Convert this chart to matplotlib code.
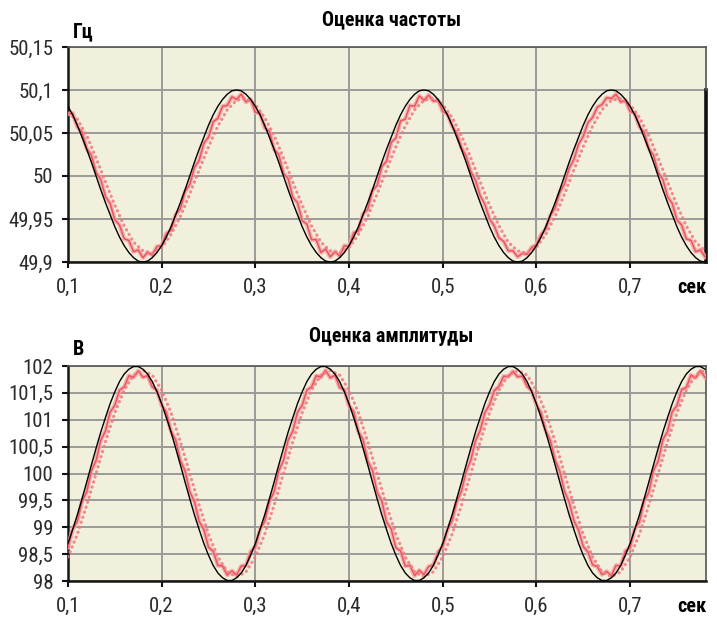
import numpy as np
import matplotlib
matplotlib.use("Agg")
import matplotlib.pyplot as plt
from matplotlib import font_manager as fm
from matplotlib.ticker import FixedLocator, FixedFormatter

# ---------------------------------------------------------------- font
# prefer a narrow sans face; fall back to an Arial-metric face
_entries = fm.fontManager.ttflist
_names = {e.name for e in _entries}
FONT = None
STRETCH = 'normal'
for fam in ['Liberation Sans Narrow', 'Roboto Condensed', 'Open Sans Condensed',
            'Noto Sans Condensed', 'DejaVu Sans Condensed', 'Arial Narrow']:
    if fam in _names:
        FONT = fam
        break
if FONT is None:
    for fam in ['Roboto', 'Noto Sans', 'Open Sans', 'DejaVu Sans', 'Inter', 'Lato']:
        if any(e.name == fam and 'condensed' in str(e.stretch) for e in _entries):
            FONT = fam
            STRETCH = 'condensed'
            break
NARROW = FONT is not None
if FONT is None:
    FONT = 'Liberation Sans'

plt.rcParams['font.family'] = [FONT, 'DejaVu Sans']
plt.rcParams['font.stretch'] = STRETCH
TICK_SIZE = 15 if NARROW else 12.5
TITLE_SIZE = 14.5 if NARROW else 12.5

# ---------------------------------------------------------------- data
# sampling: 0.005 s for the model and the fast estimate, 0.01 s for the filtered estimate
t_start, t_end = 0.10, 0.78

freq_model = [
    50.081, 50.071, 50.059, 50.045, 50.031, 50.016, 50.000, 49.984, 49.969, 49.955,
    49.941, 49.929, 49.919, 49.911, 49.905, 49.901, 49.900, 49.901, 49.905, 49.911,
    49.919, 49.929, 49.941, 49.955, 49.969, 49.984, 50.000, 50.016, 50.031, 50.045,
    50.059, 50.071, 50.081, 50.089, 50.095, 50.099,
    50.100, 50.099, 50.095, 50.089, 50.081, 50.071, 50.059, 50.045, 50.031, 50.016,
    50.000, 49.984, 49.969, 49.955, 49.941, 49.929, 49.919, 49.911, 49.905, 49.901,
    49.900, 49.901, 49.905, 49.911, 49.919, 49.929, 49.941, 49.955, 49.969, 49.984,
    50.000, 50.016, 50.031, 50.045, 50.059, 50.071, 50.081, 50.089, 50.095, 50.099,
    50.100, 50.099, 50.095, 50.089, 50.081, 50.071, 50.059, 50.045, 50.031, 50.016,
    50.000, 49.984, 49.969, 49.955, 49.941, 49.929, 49.919, 49.911, 49.905, 49.901,
    49.900, 49.901, 49.905, 49.911, 49.919, 49.929, 49.941, 49.955, 49.969, 49.984,
    50.000, 50.016, 50.031, 50.045, 50.059, 50.071, 50.081, 50.089, 50.095, 50.099,
    50.100, 50.099, 50.095, 50.089, 50.081, 50.071, 50.059, 50.045, 50.031, 50.016,
    50.000, 49.984, 49.969, 49.955, 49.941, 49.929, 49.919, 49.911, 49.905, 49.901,
    49.900,
]

freq_estimate = [
    50.072, 50.073, 50.057, 50.051, 50.032, 50.024, 50.004, 49.996, 49.976, 49.968,
    49.949, 49.943, 49.927, 49.925, 49.912, 49.914, 49.905, 49.911, 49.908, 49.918,
    49.919, 49.933, 49.937, 49.955, 49.962, 49.982, 49.990, 50.010, 50.018, 50.038,
    50.045, 50.063, 50.067, 50.081, 50.082, 50.092, 50.089,
    50.095, 50.086, 50.089, 50.074, 50.073, 50.056, 50.052, 50.031, 50.025, 50.003,
    49.997, 49.975, 49.969, 49.948, 49.944, 49.926, 49.926, 49.911, 49.915, 49.906,
    49.912, 49.907, 49.919, 49.918, 49.934, 49.936, 49.956, 49.961, 49.983, 49.989,
    50.011, 50.017, 50.039, 50.044, 50.064, 50.066, 50.082, 50.081, 50.093, 50.088,
    50.094, 50.087, 50.088, 50.075, 50.072, 50.058, 50.050, 50.033, 50.023, 50.005,
    49.995, 49.977, 49.967, 49.950, 49.942, 49.928, 49.924, 49.913, 49.913, 49.906,
    49.910, 49.909, 49.917, 49.920, 49.932, 49.938, 49.954, 49.963, 49.981, 49.991,
    50.009, 50.019, 50.037, 50.046, 50.062, 50.068, 50.080, 50.083, 50.091, 50.090,
    50.095, 50.086, 50.088, 50.075, 50.073, 50.057, 50.051, 50.032, 50.024, 50.004,
    49.996, 49.976, 49.968, 49.949, 49.943, 49.927, 49.925, 49.912, 49.914, 49.906,
]

freq_filtered = [
    50.072, 50.066, 50.047, 50.021, 49.993, 49.966, 49.942, 49.923, 49.913, 49.910,
    49.917, 49.932, 49.953, 49.979, 50.007, 50.034, 50.058, 50.077, 50.088,
    50.090, 50.083, 50.068, 50.047, 50.021, 49.993, 49.966, 49.942, 49.923, 49.913,
    49.910, 49.917, 49.932, 49.953, 49.979, 50.007, 50.034, 50.058, 50.077, 50.088,
    50.090, 50.083, 50.068, 50.047, 50.021, 49.993, 49.966, 49.942, 49.923, 49.913,
    49.910, 49.917, 49.932, 49.953, 49.979, 50.007, 50.034, 50.058, 50.077, 50.088,
    50.090, 50.083, 50.068, 50.047, 50.021, 49.993, 49.966, 49.942, 49.923, 49.913,
]

amp_model = [
    98.70, 98.96, 99.23, 99.53, 99.84, 100.16, 100.47, 100.77, 101.04, 101.30,
    101.52, 101.71, 101.85, 101.94, 101.99,
    101.99, 101.94, 101.85, 101.71, 101.52, 101.30, 101.04, 100.77, 100.47, 100.16,
    99.84, 99.53, 99.23, 98.96, 98.70, 98.48, 98.29, 98.15, 98.06, 98.01,
    98.01, 98.06, 98.15, 98.29, 98.48, 98.70, 98.96, 99.23, 99.53, 99.84,
    100.16, 100.47, 100.77, 101.04, 101.30, 101.52, 101.71, 101.85, 101.94, 101.99,
    101.99, 101.94, 101.85, 101.71, 101.52, 101.30, 101.04, 100.77, 100.47, 100.16,
    99.84, 99.53, 99.23, 98.96, 98.70, 98.48, 98.29, 98.15, 98.06, 98.01,
    98.01, 98.06, 98.15, 98.29, 98.48, 98.70, 98.96, 99.23, 99.53, 99.84,
    100.16, 100.47, 100.77, 101.04, 101.30, 101.52, 101.71, 101.85, 101.94, 101.99,
    101.99, 101.94, 101.85, 101.71, 101.52, 101.30, 101.04, 100.77, 100.47, 100.16,
    99.84, 99.53, 99.23, 98.96, 98.70, 98.48, 98.29, 98.15, 98.06, 98.01,
    98.01, 98.06, 98.15, 98.29, 98.48, 98.70, 98.96, 99.23, 99.53, 99.84,
    100.16, 100.47, 100.77, 101.04, 101.30, 101.52, 101.71, 101.85, 101.94, 101.99,
    101.99, 101.94,
]

amp_estimate = [
    98.63, 98.96, 99.11, 99.48, 99.66, 100.05, 100.24, 100.62, 100.79, 101.14,
    101.27, 101.55, 101.61, 101.82, 101.79,
    101.91, 101.79, 101.82, 101.61, 101.55, 101.27, 101.14, 100.79, 100.62, 100.24,
    100.05, 99.66, 99.48, 99.11, 98.96, 98.63, 98.55, 98.29, 98.28, 98.11,
    98.19, 98.11, 98.28, 98.29, 98.55, 98.63, 98.96, 99.11, 99.48, 99.66,
    100.05, 100.24, 100.62, 100.79, 101.14, 101.27, 101.55, 101.61, 101.82, 101.79,
    101.92, 101.78, 101.83, 101.60, 101.56, 101.26, 101.15, 100.78, 100.63, 100.23,
    100.06, 99.65, 99.49, 99.10, 98.97, 98.62, 98.56, 98.28, 98.29, 98.10,
    98.20, 98.12, 98.27, 98.30, 98.54, 98.64, 98.95, 99.12, 99.47, 99.67,
    100.04, 100.25, 100.61, 100.80, 101.13, 101.28, 101.54, 101.62, 101.81, 101.80,
    101.90, 101.80, 101.81, 101.62, 101.54, 101.28, 101.13, 100.80, 100.61, 100.25,
    100.04, 99.67, 99.47, 99.12, 98.95, 98.64, 98.54, 98.30, 98.27, 98.12,
    98.18, 98.10, 98.29, 98.28, 98.56, 98.62, 98.97, 99.10, 99.49, 99.65,
    100.06, 100.23, 100.63, 100.78, 101.15, 101.26, 101.56, 101.60, 101.83, 101.78,
    101.91, 101.79,
]

amp_filtered = [
    98.45, 98.87, 99.41, 100.00, 100.59, 101.13, 101.55, 101.83,
    101.92, 101.83, 101.55, 101.13, 100.59, 100.00, 99.41, 98.87, 98.45, 98.17,
    98.08, 98.17, 98.45, 98.87, 99.41, 100.00, 100.59, 101.13, 101.55, 101.83,
    101.92, 101.83, 101.55, 101.13, 100.59, 100.00, 99.41, 98.87, 98.45, 98.17,
    98.08, 98.17, 98.45, 98.87, 99.41, 100.00, 100.59, 101.13, 101.55, 101.83,
    101.92, 101.83, 101.55, 101.13, 100.59, 100.00, 99.41, 98.87, 98.45, 98.17,
    98.08, 98.17, 98.45, 98.87, 99.41, 100.00, 100.59, 101.13, 101.55, 101.83,
    101.92,
]

time_ticks = [0.1, 0.2, 0.3, 0.4, 0.5, 0.6, 0.7]
time_tick_labels = ["0,1", "0,2", "0,3", "0,4", "0,5", "0,6", "0,7"]
freq_ticks = [49.9, 49.95, 50.0, 50.05, 50.1, 50.15]
freq_tick_labels = ["49,9", "49,95", "50", "50,05", "50,1", "50,15"]
amp_ticks = [98, 98.5, 99, 99.5, 100, 100.5, 101, 101.5, 102]
amp_tick_labels = ["98", "98,5", "99", "99,5", "100", "100,5", "101", "101,5", "102"]

for series in (freq_model, freq_estimate, amp_model, amp_estimate):
    assert len(series) == 137, len(series)
for series in (freq_filtered, amp_filtered):
    assert len(series) == 69, len(series)

t_fine = np.linspace(t_start, t_end, len(freq_model))
t_coarse = np.linspace(t_start, t_end, len(freq_filtered))

# ---------------------------------------------------------------- style
BG = '#f1f0dc'
GRID = '#9a9a9a'
RED_CORE = '#ea4a55'
RED_HALO = '#f6a9a9'
RED_DOT = '#f27880'
TICK_COLOR = '#2b2b2b'

fig = plt.figure(figsize=(7.17, 6.17), dpi=100)
fig.patch.set_facecolor('white')

ax_f = fig.add_axes([0.0948, 0.5754, 0.8898, 0.3485])
ax_a = fig.add_axes([0.0948, 0.0583, 0.8898, 0.3485])


def style_axes(ax, yticks, ylabels, ylim):
    ax.set_facecolor(BG)
    ax.set_xlim(0.1, 0.781)
    ax.set_ylim(*ylim)
    ax.xaxis.set_major_locator(FixedLocator(time_ticks))
    ax.xaxis.set_major_formatter(FixedFormatter(time_tick_labels))
    ax.yaxis.set_major_locator(FixedLocator(yticks))
    ax.yaxis.set_major_formatter(FixedFormatter(ylabels))
    ax.grid(True, color=GRID, lw=1.4)
    ax.set_axisbelow(True)
    ax.tick_params(axis='both', direction='out', length=4.6, width=1.5,
                   color='#111111', labelsize=TICK_SIZE, labelcolor=TICK_COLOR)
    ax.tick_params(axis='x', pad=7)
    ax.tick_params(axis='y', pad=6)
    for side in ('left', 'bottom'):
        ax.spines[side].set_color('#151515')
        ax.spines[side].set_linewidth(1.8)
    for side in ('top', 'right'):
        ax.spines[side].set_color('#555555')
        ax.spines[side].set_linewidth(1.2)


def draw_series(ax, model, estimate, filtered):
    ax.plot(t_fine, estimate, color=RED_HALO, lw=3.2, alpha=0.85,
            solid_joinstyle='round', zorder=3)
    ax.plot(t_fine, estimate, color=RED_CORE, lw=1.1, alpha=0.9,
            solid_joinstyle='round', zorder=4)
    ax.plot(t_coarse, filtered, color=RED_DOT, lw=2.3, alpha=0.85,
            linestyle=(0, (0.1, 1.55)), dash_capstyle='round', zorder=5)
    ax.plot(t_fine, model, color='black', lw=1.0, zorder=6)


style_axes(ax_f, freq_ticks, freq_tick_labels, (49.9, 50.15))
style_axes(ax_a, amp_ticks, amp_tick_labels, (98, 102))
draw_series(ax_f, freq_model, freq_estimate, freq_filtered)
draw_series(ax_a, amp_model, amp_estimate, amp_filtered)

# heavy right border of the frequency panel below the 50,1 line
ax_f.spines['right'].set_bounds(49.9, 50.1)
ax_f.spines['right'].set_color('#101010')
ax_f.spines['right'].set_linewidth(2.6)
ax_f.axvline(0.781, ymin=0.8, ymax=1.0, color='#555555', lw=1.2, zorder=7,
             clip_on=False)

# titles and unit labels
bold = dict(fontsize=TITLE_SIZE, fontweight='bold')
fig.text(0.546, 0.968, 'Оценка частоты', ha='center', va='center', **bold)
fig.text(0.546, 0.454, 'Оценка амплитуды', ha='center', va='center', **bold)
fig.text(0.101, 0.940, 'Гц', ha='left', va='baseline', **bold)
fig.text(0.101, 0.4246, 'В', ha='left', va='baseline', **bold)
fig.text(0.985, 0.5348, 'сек', ha='right', va='center', **bold)
fig.text(0.985, 0.0178, 'сек', ha='right', va='center', **bold)

fig.savefig('out.png', dpi=100, facecolor='white')
